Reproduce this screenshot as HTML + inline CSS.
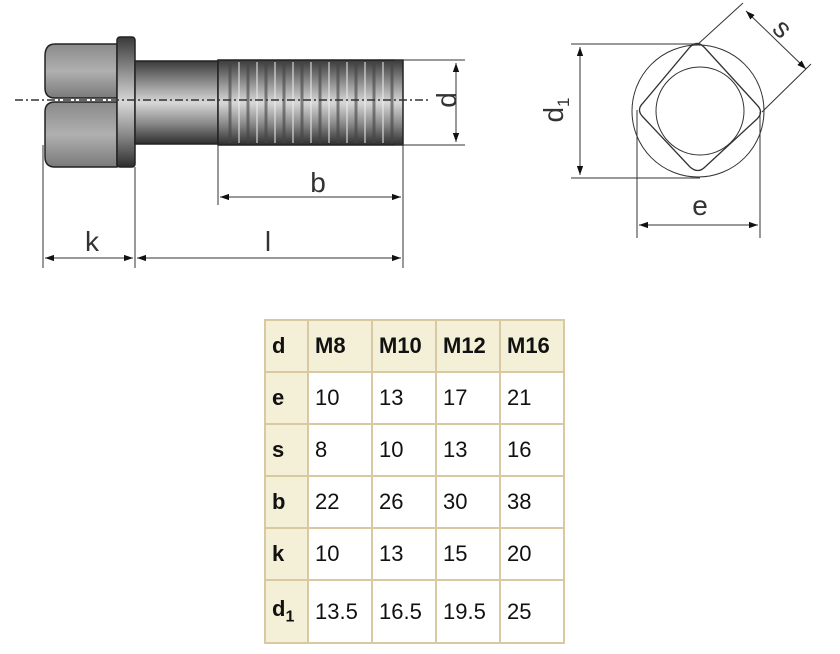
<!DOCTYPE html>
<html><head><meta charset="utf-8"><style>
body{margin:0;background:#fff;width:840px;height:654px;overflow:hidden;position:relative;font-family:"Liberation Sans",Arial,sans-serif}
svg{position:absolute;left:0;top:0}
table{position:absolute;left:264px;top:319px;border-collapse:collapse;font-size:22px;color:#111}
td{border:2px solid #d9c9a3;padding:0 0 0 6px;height:50px;vertical-align:middle;text-align:left}
td.h{background:#f4f0d8;font-weight:bold}
</style></head><body>
<svg width="840" height="300" viewBox="0 0 840 300">
<defs>
<linearGradient id="g" x1="0" y1="0" x2="0" y2="1">
<stop offset="0" stop-color="#3a3a3a"/><stop offset="0.3" stop-color="#9a9a9a"/><stop offset="0.5" stop-color="#d8d8d8"/><stop offset="0.75" stop-color="#8a8a8a"/><stop offset="1" stop-color="#2e2e2e"/>
</linearGradient>
<linearGradient id="hd" x1="0" y1="0" x2="0" y2="1">
<stop offset="0" stop-color="#8a8a8a"/><stop offset="0.5" stop-color="#b0b0b0"/><stop offset="1" stop-color="#7a7a7a"/>
</linearGradient>
<marker id="a" viewBox="0 0 10 10" refX="10" refY="5" markerWidth="9" markerHeight="9" orient="auto-start-reverse"><path d="M0,1.5L10,5L0,8.5z" fill="#111"/></marker>
</defs>
<g stroke="#222" stroke-width="1.5">
<path d="M55,44H117V98H55Q45,98 45,88V56Q45,44 55,44Z" fill="url(#hd)"/>
<path d="M55,102H117V167H55Q45,167 45,157V112Q45,102 55,102Z" fill="url(#hd)"/>
<rect x="117" y="37" width="18" height="130" rx="3" fill="url(#g)"/>
<rect x="135" y="61" width="83" height="83" fill="url(#g)"/>
<rect x="218" y="60" width="185" height="85" fill="url(#g)"/>
</g>
<g stroke="#444" stroke-width="3" opacity="0.6">
<path d="M230,62V143M248,62V143M266,62V143M284,62V143M302,62V143M320,62V143M338,62V143M356,62V143M374,62V143M392,62V143"/>
</g>
<g stroke="#eee" stroke-width="2" opacity="0.5">
<path d="M239,62V143M257,62V143M275,62V143M293,62V143M311,62V143M329,62V143M347,62V143M365,62V143M383,62V143"/>
</g>
<path d="M15,100H430" stroke="#333" stroke-width="1.5" stroke-dasharray="8,3,2,3"/>
<g stroke="#333" stroke-width="1" fill="none">
<path d="M395,60H465M395,145H465M218,145V205M403,145V268M43,145V268M135,167V268"/>
<path d="M456,63V142" marker-start="url(#a)" marker-end="url(#a)"/>
<path d="M220,197H401" marker-start="url(#a)" marker-end="url(#a)"/>
<path d="M45,258H133" marker-start="url(#a)" marker-end="url(#a)"/>
<path d="M137,258H401" marker-start="url(#a)" marker-end="url(#a)"/>
<circle cx="698" cy="111" r="66"/>
<circle cx="700" cy="111" r="44"/>
<path d="M690,47Q697,40 704,47L757,105Q764,112 757,119L705,167Q698,174 690,167L643,117Q636,110 643,103Z" stroke-width="1.3"/>
<path d="M571,44H697M571,178H700M637,110V238M760,112V238M697,45L743,3M762,112L811,64"/>
<path d="M580,47V175" marker-start="url(#a)" marker-end="url(#a)"/>
<path d="M639,225H758" marker-start="url(#a)" marker-end="url(#a)"/>
<path d="M746,11L806,69" marker-start="url(#a)" marker-end="url(#a)"/>
</g>
<g font-size="28" fill="#333" text-anchor="middle">
<text x="318" y="192">b</text>
<text x="92" y="251">k</text>
<text x="268" y="251">l</text>
<text x="700" y="215">e</text>
<text transform="translate(446,100) rotate(-90)" y="10">d</text>
<text transform="translate(553,110) rotate(-90)" y="10">d<tspan font-size="17" dy="6">1</tspan></text>
<text transform="translate(783,28) rotate(45)" y="10">s</text>
</g>
</svg>
<table>
<tr><td class="h" style="width:35px">d</td><td class="h" style="width:56px">M8</td><td class="h" style="width:56px">M10</td><td class="h" style="width:56px">M12</td><td class="h" style="width:56px">M16</td></tr>
<tr><td class="h">e</td><td>10</td><td>13</td><td>17</td><td>21</td></tr>
<tr><td class="h">s</td><td>8</td><td>10</td><td>13</td><td>16</td></tr>
<tr><td class="h">b</td><td>22</td><td>26</td><td>30</td><td>38</td></tr>
<tr><td class="h">k</td><td>10</td><td>13</td><td>15</td><td>20</td></tr>
<tr><td class="h" style="height:61px">d<sub style="font-size:16px">1</sub></td><td style="height:61px">13.5</td><td>16.5</td><td>19.5</td><td>25</td></tr>
</table>
</body></html>
